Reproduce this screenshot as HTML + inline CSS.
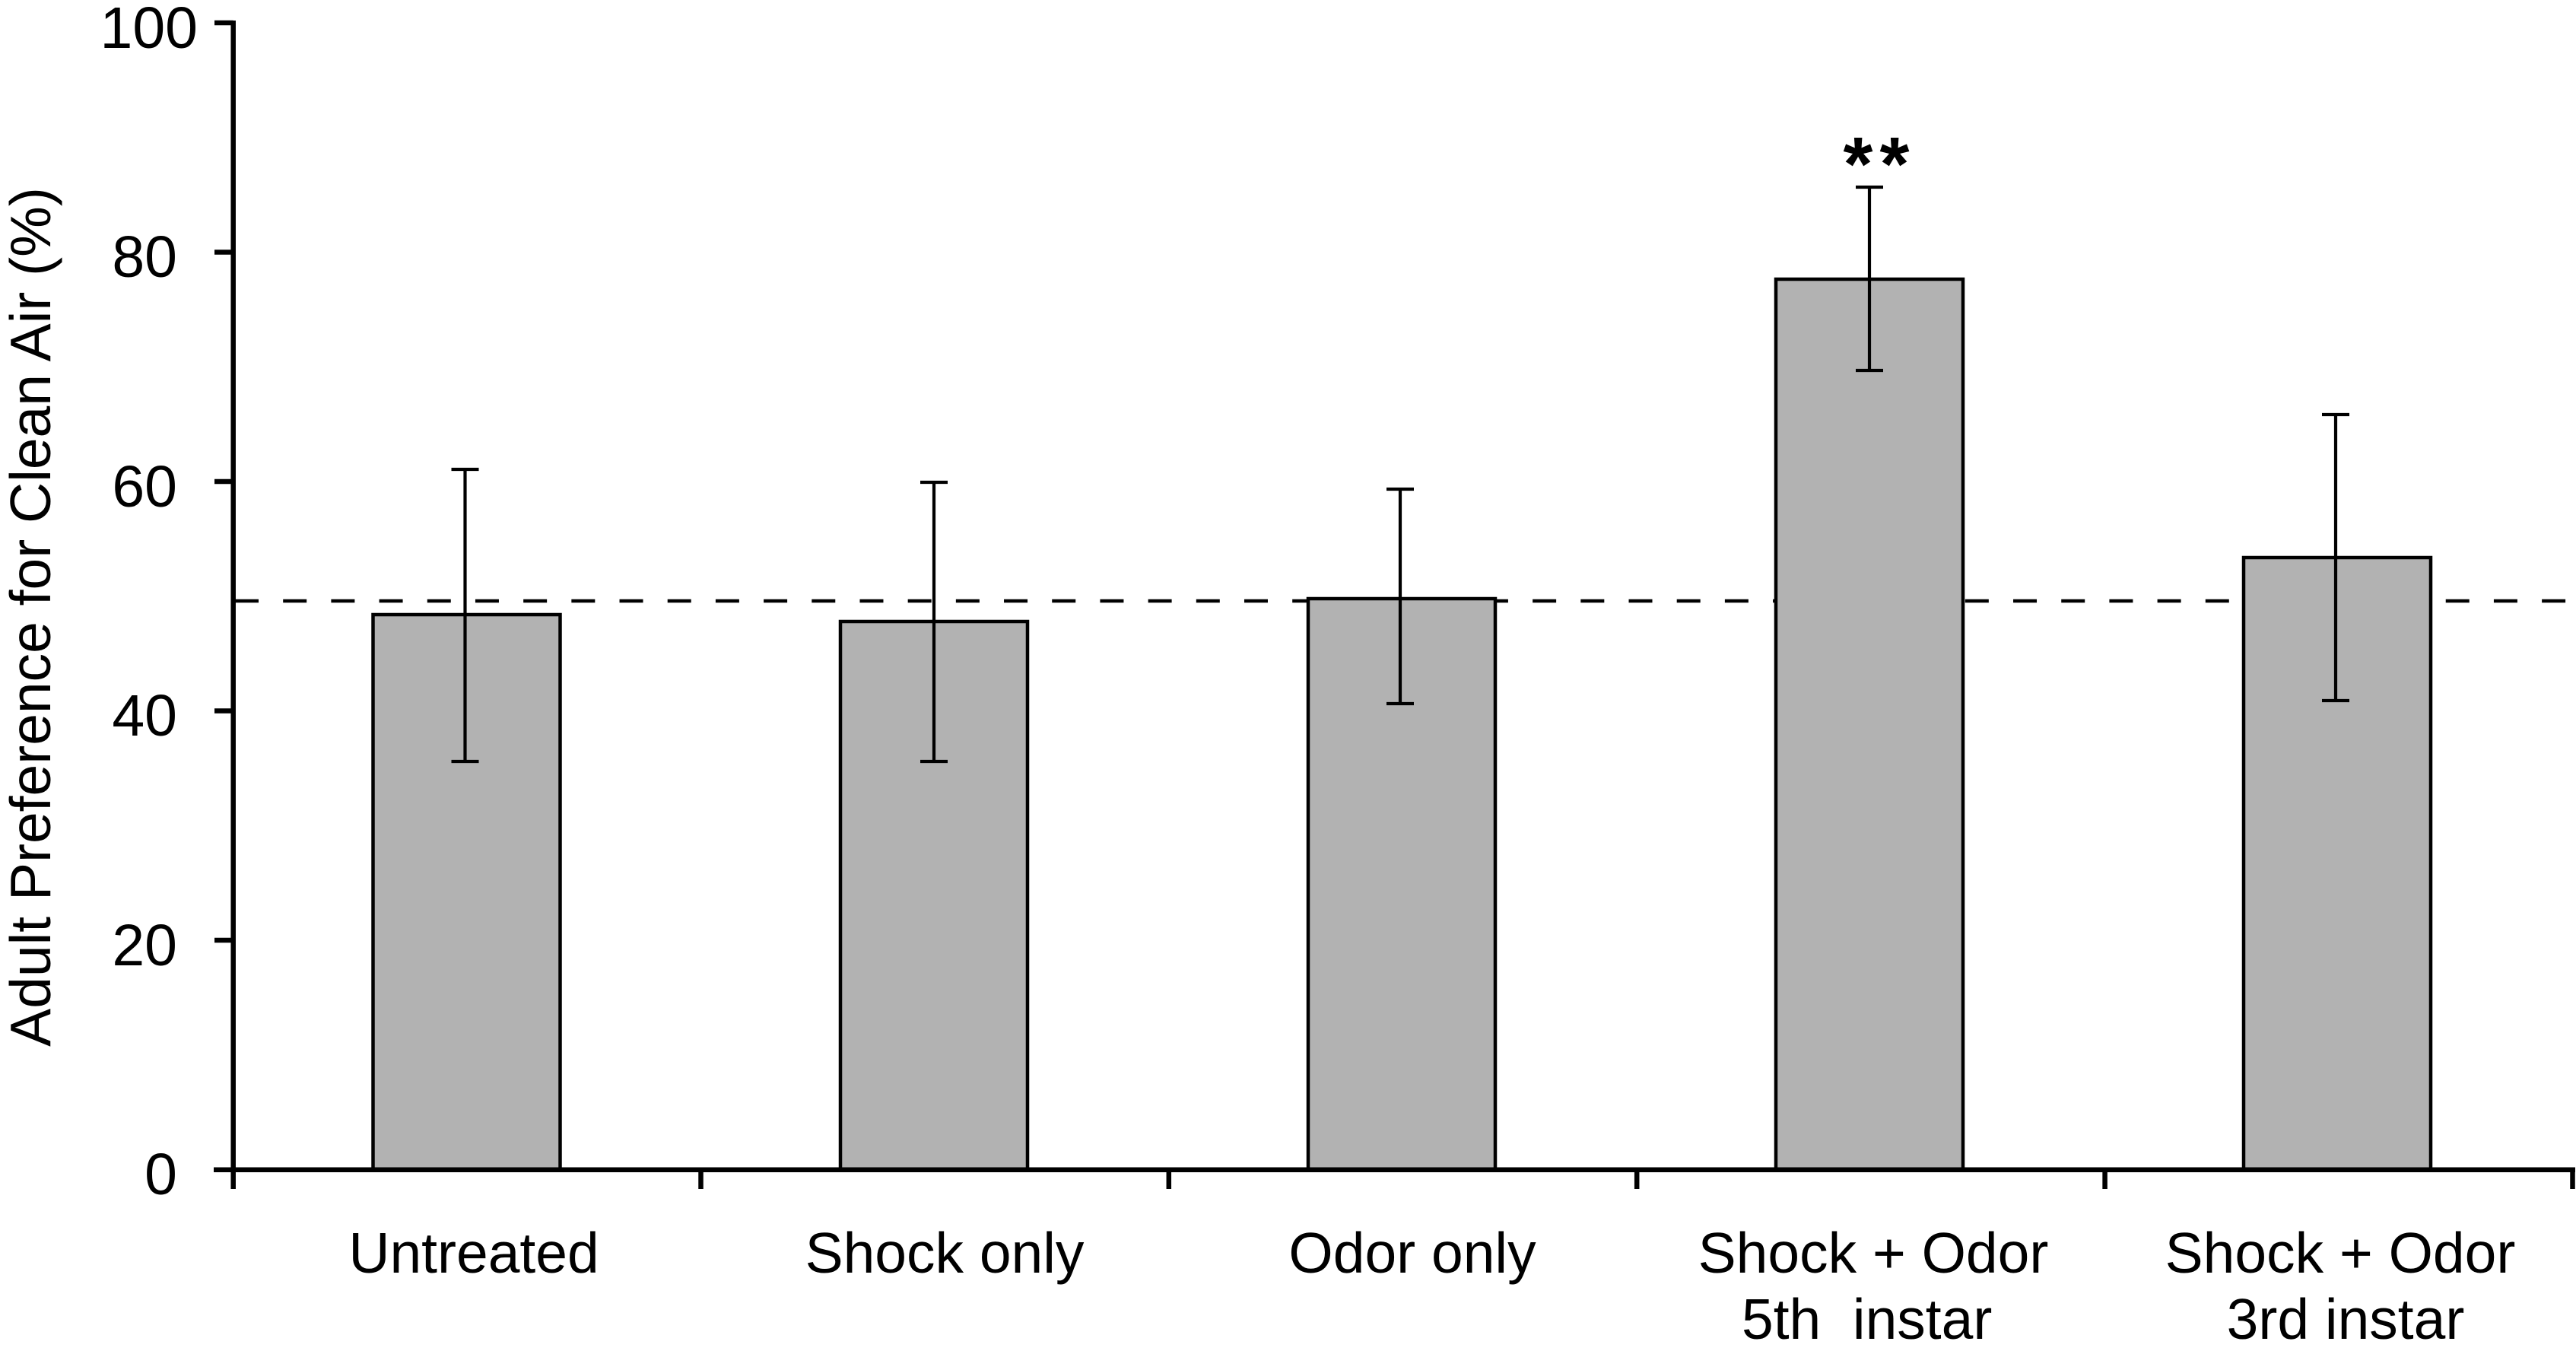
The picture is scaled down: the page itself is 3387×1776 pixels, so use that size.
<!DOCTYPE html>
<html>
<head>
<meta charset="utf-8">
<style>
  html, body { margin: 0; padding: 0; background: #ffffff; }
  svg { display: block; }
  text { font-family: "Liberation Sans", Arial, sans-serif; fill: #000; }
</style>
</head>
<body>
<svg width="3387" height="1776" viewBox="0 0 3387 1776" xmlns="http://www.w3.org/2000/svg">
  <rect x="0" y="0" width="3387" height="1776" fill="#ffffff"/>

  <!-- dashed reference line -->
  <line x1="309" y1="790" x2="3376" y2="790" stroke="#000" stroke-width="4.5" stroke-dasharray="31 32.19"/>

  <!-- bars -->
  <g fill="#b2b2b2" stroke="#000" stroke-width="4.5">
    <rect x="490.5" y="808" width="246" height="729.5"/>
    <rect x="1105" y="817" width="246" height="720.5"/>
    <rect x="1720" y="787" width="246" height="750.5"/>
    <rect x="2335" y="367" width="246" height="1170.5"/>
    <rect x="2950" y="733" width="246" height="804.5"/>
  </g>

  <!-- error bars -->
  <g stroke="#000" stroke-width="4.2" fill="none">
    <line x1="611.5" y1="617" x2="611.5" y2="1001"/>
    <line x1="593.5" y1="617" x2="629.5" y2="617"/>
    <line x1="593.5" y1="1001" x2="629.5" y2="1001"/>

    <line x1="1228" y1="634" x2="1228" y2="1001"/>
    <line x1="1210" y1="634" x2="1246" y2="634"/>
    <line x1="1210" y1="1001" x2="1246" y2="1001"/>

    <line x1="1841" y1="643" x2="1841" y2="925"/>
    <line x1="1823" y1="643" x2="1859" y2="643"/>
    <line x1="1823" y1="925" x2="1859" y2="925"/>

    <line x1="2458" y1="246" x2="2458" y2="487"/>
    <line x1="2440" y1="246" x2="2476" y2="246"/>
    <line x1="2440" y1="487" x2="2476" y2="487"/>

    <line x1="3071" y1="545" x2="3071" y2="921"/>
    <line x1="3053" y1="545" x2="3089" y2="545"/>
    <line x1="3053" y1="921" x2="3089" y2="921"/>
  </g>

  <!-- axes -->
  <g stroke="#000" stroke-width="6.5" fill="none">
    <line x1="306.7" y1="27" x2="306.7" y2="1541"/>
    <line x1="281" y1="1537.7" x2="3386" y2="1537.7"/>
    <!-- y ticks -->
    <line x1="282" y1="30" x2="306.7" y2="30"/>
    <line x1="282" y1="331.5" x2="306.7" y2="331.5"/>
    <line x1="282" y1="633" x2="306.7" y2="633"/>
    <line x1="282" y1="934.5" x2="306.7" y2="934.5"/>
    <line x1="282" y1="1236" x2="306.7" y2="1236"/>
    <!-- x ticks -->
    <line x1="306.7" y1="1537.7" x2="306.7" y2="1563"/>
    <line x1="921.5" y1="1537.7" x2="921.5" y2="1563"/>
    <line x1="1536.8" y1="1537.7" x2="1536.8" y2="1563"/>
    <line x1="2152.2" y1="1537.7" x2="2152.2" y2="1563"/>
    <line x1="2767.6" y1="1537.7" x2="2767.6" y2="1563"/>
    <line x1="3382.5" y1="1537.7" x2="3382.5" y2="1563"/>
  </g>

  <!-- y tick labels -->
  <g font-size="77">
    <text x="260" y="63" text-anchor="end">100</text>
    <text x="233" y="364" text-anchor="end">80</text>
    <text x="233" y="666" text-anchor="end">60</text>
    <text x="233" y="967" text-anchor="end">40</text>
    <text x="233" y="1269" text-anchor="end">20</text>
    <text x="233" y="1570" text-anchor="end">0</text>
  </g>

  <!-- y axis title -->
  <text font-size="75" text-anchor="middle" transform="translate(66,811) rotate(-90)">Adult Preference for Clean Air (%)</text>

  <!-- category labels -->
  <g font-size="75" text-anchor="middle">
    <text x="623" y="1673">Untreated</text>
    <text x="1242" y="1673">Shock only</text>
    <text x="1857" y="1673">Odor only</text>
    <text x="2463" y="1673">Shock + Odor</text>
    <text x="3077" y="1673">Shock + Odor</text>
    <text x="3084" y="1760">3rd instar</text>
  </g>
  <text font-size="75" x="2290" y="1760" xml:space="preserve">5th  instar</text>

  <!-- significance -->
  <g font-size="100" font-weight="bold" text-anchor="middle">
    <text x="2443" y="250">*</text>
    <text x="2491" y="250">*</text>
  </g>
</svg>
</body>
</html>
